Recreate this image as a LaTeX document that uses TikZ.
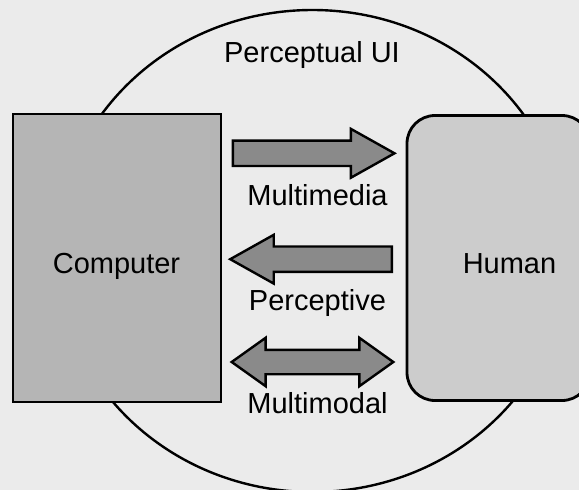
\documentclass[tikz,border=0pt]{standalone}
\usepackage{fontspec}
\setmainfont{Liberation Sans}
\usetikzlibrary{shapes.arrows}

\definecolor{paper}{gray}{0.92}
\definecolor{pcgray}{gray}{0.71}
\definecolor{humangray}{gray}{0.80}
\definecolor{arrowgray}{gray}{0.54}

\begin{document}
\begin{tikzpicture}[x=1pt,y=-1pt,
	box/.style={draw,line width=2.8pt,inner sep=0pt},
	flow/.style={draw,line width=2.4pt,fill=arrowgray,inner xsep=0pt,inner ysep=11.5pt,minimum height=161.6pt},
	lbl/.style={font=\fontsize{29}{34}\selectfont,anchor=base,inner sep=0pt}]
	\useasboundingbox (0,0) rectangle (579,490);
	\clip (0,0) rectangle (579,490);
	\fill [paper] (0,0) rectangle (579,490);
	\draw [line width=2.4pt] (312.5,251) ellipse [x radius=256, y radius=241];
	\node [box,fill=pcgray,minimum width=208,minimum height=288] (pc) at (117,258) {};
	\node [box,fill=humangray,rounded corners=28,minimum width=183,minimum height=285] (human) at (498.5,258) {};
	\node [flow,single arrow,single arrow head extend=11.7,single arrow tip angle=58.5,anchor=tail] (media) at (231.7,153.3) {};
	\node [flow,single arrow,single arrow head extend=11.7,single arrow tip angle=58.5,shape border rotate=180,anchor=tail] (percept) at (393,259.2) {};
	\node [flow,double arrow,double arrow head extend=12,double arrow tip angle=71,inner ysep=11pt] (modal) at (312.5,362) {};
	\node [lbl] (ui) at (312,62.5) {Perceptual UI};
	\node [lbl] (pclabel) at (116.5,273) {Computer};
	\node [lbl] (humanlabel) at (509.5,273) {Human};
	\node [lbl] (medialabel) at (317.5,205) {Multimedia};
	\node [lbl] (perceptlabel) at (317.5,310.5) {Perceptive};
	\node [lbl] (modallabel) at (317.5,413) {Multimodal};
\end{tikzpicture}
\end{document}
